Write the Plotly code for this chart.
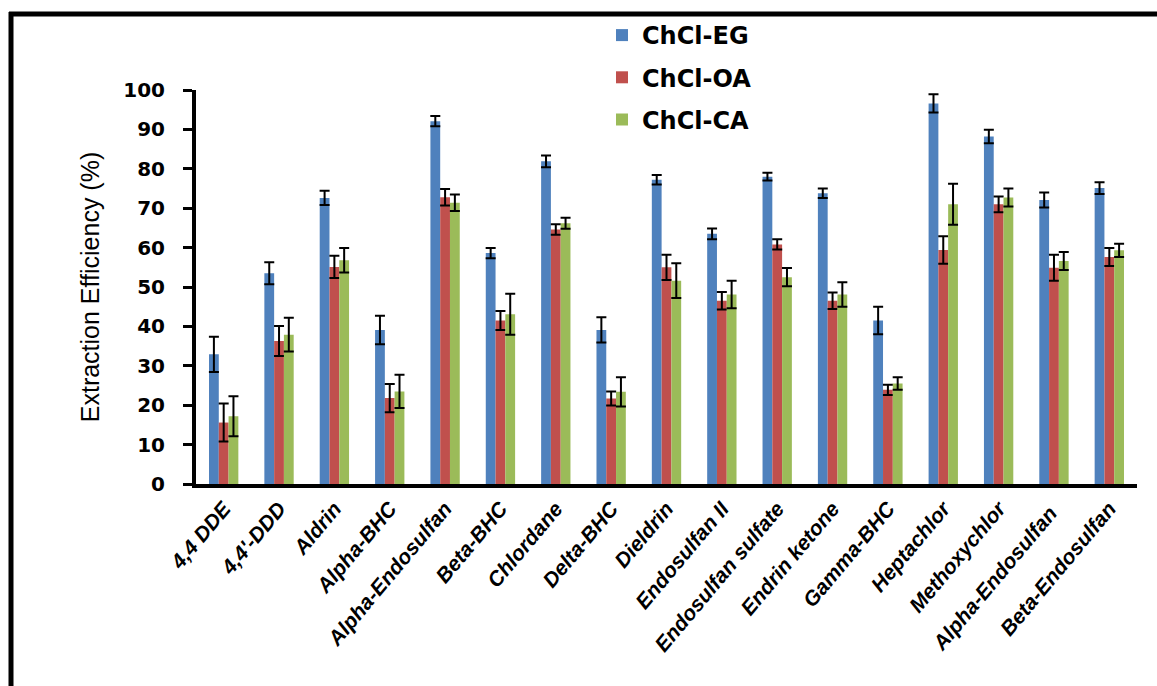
import plotly.graph_objects as go

# Pesticides extracted
compounds = [
    "4,4 DDE", "4,4'-DDD", "Aldrin", "Alpha-BHC", "Alpha-Endosulfan",
    "Beta-BHC", "Chlordane", "Delta-BHC", "Dieldrin", "Endosulfan II",
    "Endosulfan sulfate", "Endrin ketone", "Gamma-BHC", "Heptachlor",
    "Methoxychlor", "Alpha-Endosulfan ", "Beta-Endosulfan",
]

# Extraction efficiency (%) per deep eutectic solvent
eg_mean = [32.9, 53.5, 72.6, 39.1, 92.1, 58.6, 81.9, 39.1, 77.2, 63.5,
           78.0, 73.8, 41.5, 96.6, 88.2, 72.1, 75.1]
oa_mean = [15.6, 36.3, 55.1, 21.8, 72.8, 41.5, 64.6, 21.7, 55.0, 46.5,
           60.8, 46.5, 23.9, 59.4, 71.0, 54.9, 57.6]
ca_mean = [17.2, 37.9, 56.8, 23.5, 71.4, 43.1, 66.2, 23.4, 51.6, 48.1,
           52.5, 48.1, 25.5, 71.0, 72.7, 56.6, 59.3]

# Standard deviations
eg_sd = [4.5, 2.8, 1.8, 3.6, 1.3, 1.3, 1.5, 3.2, 1.2, 1.35,
         1.0, 1.2, 3.5, 2.3, 1.7, 1.9, 1.5]
oa_sd = [4.8, 3.8, 2.8, 3.6, 2.1, 2.4, 1.35, 1.8, 3.2, 2.2,
         1.3, 2.1, 1.3, 3.5, 2.0, 3.3, 2.3]
ca_sd = [5.1, 4.3, 3.1, 4.2, 2.1, 5.2, 1.4, 3.7, 4.4, 3.5,
         2.3, 3.1, 1.6, 5.2, 2.3, 2.3, 1.7]

series = [
    ("ChCl-EG", eg_mean, eg_sd, "#4F81BD"),
    ("ChCl-OA", oa_mean, oa_sd, "#C0504D"),
    ("ChCl-CA", ca_mean, ca_sd, "#9BBB59"),
]

W, H = 1157, 686
ML, MR, MT, MB = 196, 20, 90, 202
PW, PH = W - ML - MR, H - MT - MB


def paper_x(px):
    return (px - ML) / PW


def paper_y(py):
    return (H - MB - py) / PH


fig = go.Figure()
for name, mean, sd, color in series:
    fig.add_trace(go.Bar(
        name=name,
        x=compounds,
        y=mean,
        marker=dict(color=color, line=dict(width=0)),
        legendgroup=name,
        error_y=dict(type="data", array=sd, visible=True,
                     color="black", thickness=2, width=5),
    ))

# Outer frame (left and top edges)
frame = dict(type="line", xref="paper", yref="paper",
             line=dict(color="black", width=5))
fig.add_shape(**frame, x0=paper_x(11), x1=paper_x(11),
              y0=paper_y(12), y1=paper_y(H + 10))
fig.add_shape(**frame, x0=paper_x(9), x1=paper_x(W + 10),
              y0=paper_y(14), y1=paper_y(14))

fig.update_layout(
    width=W, height=H,
    margin=dict(l=ML, r=MR, t=MT, b=MB, autoexpand=False),
    paper_bgcolor="white", plot_bgcolor="white",
    barmode="group", bargap=0.47, bargroupgap=0,
    font=dict(family="Liberation Sans, Arial", color="black"),
    showlegend=True,
    legend=dict(
        x=paper_x(602), y=paper_y(13), xanchor="left", yanchor="top",
        bgcolor="rgba(0,0,0,0)", borderwidth=0,
        font=dict(family="DejaVu Sans", size=24, weight="bold", color="black"),
        tracegroupgap=8, itemwidth=30,
    ),
    xaxis=dict(
        showline=True, linewidth=4, linecolor="black",
        ticks="", showgrid=False, zeroline=False,
        tickangle=-50,
        tickfont=dict(family="Liberation Sans", size=21, weight="bold",
                      style="italic", color="black"),
    ),
    yaxis=dict(
        range=[0, 100], dtick=10, tick0=0,
        showline=True, linewidth=4, linecolor="black",
        ticks="outside", ticklen=9, tickwidth=3, tickcolor="black",
        showgrid=False, zeroline=False,
        ticklabelstandoff=14,
        tickfont=dict(family="DejaVu Sans", size=20, weight="bold",
                      color="black"),
        title=dict(text="Extraction Efficiency (%)", standoff=18,
                   font=dict(family="Liberation Sans", size=25,
                             color="black")),
    ),
)

fig.write_html("out.html")
